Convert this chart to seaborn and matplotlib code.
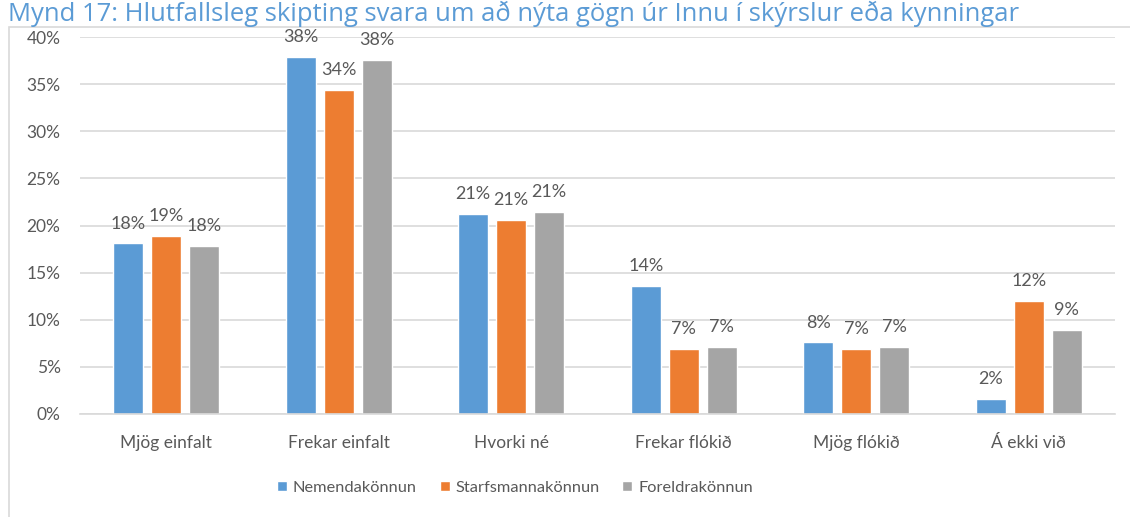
import pandas as pd
import seaborn as sns
import matplotlib.pyplot as plt
from matplotlib.patches import Rectangle

# gögn lesin af myndinni (%)
flokkar = ['Mjög einfalt', 'Frekar einfalt', 'Hvorki né', 'Frekar flókið', 'Mjög flókið', 'Á ekki við']
nemendur = [18.1, 37.9, 21.2, 13.6, 7.6, 1.6]
starfsmenn = [18.9, 34.4, 20.6, 6.9, 6.9, 12.0]
foreldrar = [17.8, 37.6, 21.4, 7.1, 7.1, 8.9]
kannanir = ['Nemendakönnun', 'Starfsmannakönnun', 'Foreldrakönnun']
litir = ['#5B9BD5', '#ED7D31', '#A5A5A5']
titill = 'Mynd 17: Hlutfallsleg skipting svara um að nýta gögn úr Innu í skýrslur eða kynningar'

df = pd.DataFrame({'Flokkur': flokkar * 3,
                   'Könnun': [k for k in kannanir for _ in flokkar],
                   'Hlutfall': nemendur + starfsmenn + foreldrar})

sns.set_style('white')
plt.rcParams['font.family'] = ['Lato', 'DejaVu Sans']
texti = '#595959'

fig = plt.figure(figsize=(11.3, 5.17), dpi=100)
ax = fig.add_axes([80 / 1130, 1 - 414 / 517, 1035 / 1130, 377 / 517])

sns.barplot(data=df, x='Flokkur', y='Hlutfall', hue='Könnun', palette=litir,
            width=0.661, gap=0.21, ax=ax, saturation=1)

# merkingar ofan á súlum
for c in ax.containers:
    ax.bar_label(c, labels=[f'{v:.0f}%' for v in c.datavalues], padding=8.5,
                 fontsize=13, color=texti, clip_on=False)

ax.set_ylim(0, 40)
ax.set_xlim(-0.5, 5.5)
ax.set_yticks(range(0, 41, 5))
ax.set_yticklabels([f'{t}%' for t in range(0, 41, 5)])
ax.yaxis.grid(True, color='#D9D9D9', lw=1.2)
ax.set_axisbelow(True)
for s in ['top', 'right', 'left']:
    ax.spines[s].set_visible(False)
ax.spines['bottom'].set_color('#D9D9D9')
ax.spines['bottom'].set_linewidth(1.2)
ax.tick_params(axis='both', length=0, labelsize=12.5, labelcolor=texti)
ax.tick_params(axis='y', pad=14)
ax.tick_params(axis='x', pad=15)
ax.set_xlabel('')
ax.set_ylabel('')

sns.move_legend(ax, 'center', bbox_to_anchor=(515 / 1130, 1 - 488 / 517),
                bbox_transform=fig.transFigure, ncol=3, frameon=False, title=None,
                fontsize=11.8, handlelength=0.6, handleheight=0.6,
                handletextpad=0.35, columnspacing=1.4, labelcolor=texti)

# rammi utan um grafið
fig.add_artist(Rectangle((9 / 1130, -0.1), 1.2, 1.1 - 27 / 517, transform=fig.transFigure,
                         fill=False, edgecolor='#D9D9D9', lw=1.2))

# titill, stækkaður svo hann nái yfir svipaða breidd og á myndinni
t = fig.text(8 / 1130, 1 - 21 / 517, titill, color='#5B9BD5', fontsize=15,
             va='baseline', ha='left', family=['Open Sans', 'DejaVu Sans'])
fig.canvas.draw()
breidd = t.get_window_extent().width
t.set_fontsize(15 * 1010 / breidd)

fig.savefig('out.png', dpi=100)
